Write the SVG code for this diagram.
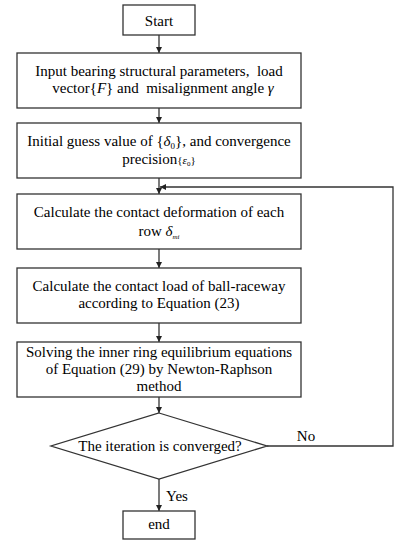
<svg xmlns="http://www.w3.org/2000/svg" width="406" height="550" viewBox="0 0 406 550">
<style>
.b{fill:#fff;stroke:#333;stroke-width:1.3}
.t{font-family:"Liberation Serif","Times New Roman",serif;font-size:15px;fill:#000;text-anchor:middle;white-space:pre}
.l{fill:none;stroke:#333;stroke-width:1.3}
.i{font-style:italic}
</style>
<defs>
<marker id="a" viewBox="0 0 10 10" refX="10" refY="5" markerWidth="6" markerHeight="7" markerUnits="userSpaceOnUse" orient="auto">
<path d="M0,0L10,5L0,10z" fill="#222"/>
</marker>
</defs>
<rect width="406" height="550" fill="#fff"/>
<g id="connectors">
<line class="l" x1="159" y1="35" x2="159" y2="53" marker-end="url(#a)"/>
<line class="l" x1="159" y1="108" x2="159" y2="123" marker-end="url(#a)"/>
<line class="l" x1="159" y1="178" x2="159" y2="194" marker-end="url(#a)"/>
<line class="l" x1="159" y1="249" x2="159" y2="268" marker-end="url(#a)"/>
<line class="l" x1="159" y1="323" x2="159" y2="342" marker-end="url(#a)"/>
<line class="l" x1="159" y1="397" x2="159" y2="413" marker-end="url(#a)"/>
<line class="l" x1="159" y1="479" x2="159" y2="511" marker-end="url(#a)"/>
<polyline class="l" points="267,446 393,446 393,187 160,187" marker-end="url(#a)"/>
<text class="t" x="306" y="441">No</text>
<text class="t" x="177" y="501">Yes</text>
</g>
<g id="start">
<rect class="b" x="123" y="5" width="72" height="30"/>
<text class="t" x="159" y="26">Start</text>
</g>
<g id="input">
<rect class="b" x="17" y="53" width="284" height="55"/>
<text class="t" x="159" y="76">Input bearing structural parameters,  load</text>
<text class="t" x="163" y="93">vector{<tspan class="i">F</tspan>} and  misalignment angle <tspan class="i">γ</tspan></text>
</g>
<g id="guess">
<rect class="b" x="17" y="123" width="284" height="55"/>
<text class="t" x="159" y="146">Initial guess value of {<tspan class="i">δ</tspan><tspan font-size="9" dy="3">0</tspan><tspan dy="-3">}, and convergence</tspan></text>
<text class="t" x="159" y="164">precision<tspan font-size="11">{<tspan class="i">ε</tspan><tspan font-size="7" dy="2">0</tspan><tspan dy="-2">}</tspan></tspan></text>
</g>
<g id="deformation">
<rect class="b" x="17" y="194" width="284" height="55"/>
<text class="t" x="159" y="217">Calculate the contact deformation of each</text>
<text class="t" x="159" y="236">row <tspan class="i">δ</tspan><tspan class="i" font-size="7" dy="3">mi</tspan></text>
</g>
<g id="load">
<rect class="b" x="17" y="268" width="284" height="55"/>
<text class="t" x="159" y="291">Calculate the contact load of ball-raceway</text>
<text class="t" x="159" y="308">according to Equation (23)</text>
</g>
<g id="solve">
<rect class="b" x="17" y="342" width="284" height="55"/>
<text class="t" x="159" y="357">Solving the inner ring equilibrium equations</text>
<text class="t" x="159" y="374">of Equation (29) by Newton-Raphson</text>
<text class="t" x="159" y="391">method</text>
</g>
<g id="decision">
<polygon class="b" points="159,413 267,446 159,479 51,446"/>
<text class="t" x="160" y="451">The iteration is converged?</text>
</g>
<g id="end">
<rect class="b" x="123" y="511" width="72" height="28"/>
<text class="t" x="159" y="529">end</text>
</g>
</svg>
